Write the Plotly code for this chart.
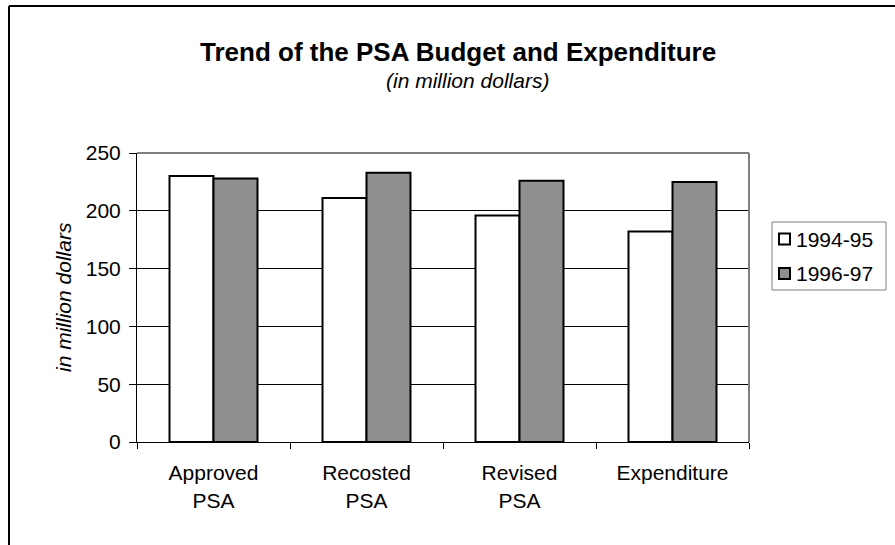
import plotly.graph_objects as go

# PSA budget and expenditure, in million dollars
categories = ["Approved<br>PSA", "Recosted<br>PSA", "Revised<br>PSA", "Expenditure"]
series_names = ["1994-95", "1996-97"]
values_1994_95 = [230, 211, 196, 182]
values_1996_97 = [228, 233, 226, 225]
y_ticks = [0, 50, 100, 150, 200, 250]
series_colors = ["#ffffff", "#8f8f8f"]

FONT = "Liberation Sans, Arial, sans-serif"
W, H = 895, 545
L, R, T, B = 137, 146, 153, 103
PW, PH = W - L - R, H - T - B


def px_x(x):
    return (x - L) / PW


def px_y(y):
    return (H - B - y) / PH


fig = go.Figure()
for name, vals, col in zip(series_names, [values_1994_95, values_1996_97], series_colors):
    fig.add_trace(go.Bar(
        x=categories, y=vals, name=name, showlegend=False,
        marker=dict(color=col, line=dict(color="#000000", width=2)),
    ))

fig.update_layout(
    width=W, height=H,
    margin=dict(l=L, r=R, t=T, b=B, pad=0),
    paper_bgcolor="#ffffff", plot_bgcolor="#ffffff",
    barmode="group", bargap=0.425, bargroupgap=0,
    font=dict(family=FONT, size=21, color="#000000"),
    showlegend=False,
    xaxis=dict(
        type="category", tickson="boundaries", ticks="outside", ticklen=6,
        tickcolor="#000000", showline=True, linecolor="#000000", linewidth=1,
        showgrid=False, tickfont=dict(family=FONT, size=21),
        ticklabelstandoff=12,
    ),
    yaxis=dict(
        range=[0, 250], tickvals=y_ticks, ticks="outside", ticklen=7,
        tickcolor="#000000", showline=True, linecolor="#000000", linewidth=1,
        showgrid=True, gridcolor="#000000", gridwidth=1, zeroline=False,
        tickfont=dict(family=FONT, size=21), ticklabelstandoff=4,
    ),
)

# plot-area frame (top and right sides in grey)
fig.add_shape(type="line", xref="paper", yref="paper", x0=0, x1=1, y0=1, y1=1,
              line=dict(color="#808080", width=2), layer="above")
fig.add_shape(type="line", xref="paper", yref="paper", x0=1, x1=1, y0=0, y1=1,
              line=dict(color="#808080", width=2), layer="above")

# outer chart border (top and left edges)
fig.add_shape(type="line", xref="paper", yref="paper",
              x0=px_x(9), x1=px_x(W), y0=px_y(6), y1=px_y(6),
              line=dict(color="#000000", width=2), layer="above")
fig.add_shape(type="line", xref="paper", yref="paper",
              x0=px_x(9), x1=px_x(9), y0=px_y(6), y1=px_y(H),
              line=dict(color="#000000", width=2), layer="above")

# legend box with swatches
fig.add_shape(type="rect", xref="paper", yref="paper",
              x0=px_x(772), x1=px_x(886), y0=px_y(222), y1=px_y(290),
              line=dict(color="#808080", width=1), fillcolor="#ffffff", layer="above")
for i, (name, col) in enumerate(zip(series_names, series_colors)):
    cy = 239 + i * 34.5
    fig.add_shape(type="rect", xref="paper", yref="paper",
                  x0=px_x(779), x1=px_x(790), y0=px_y(cy - 5.5), y1=px_y(cy + 5.5),
                  line=dict(color="#000000", width=2), fillcolor=col, layer="above")
    fig.add_annotation(
        text=name, xref="paper", yref="paper", x=px_x(794), y=px_y(cy),
        xanchor="left", yanchor="middle", showarrow=False,
        font=dict(family=FONT, size=21, color="#000000"),
    )

fig.add_annotation(
    text="<b>Trend of the PSA Budget and Expenditure</b>",
    xref="paper", yref="paper", x=px_x(458), y=px_y(52),
    xanchor="center", yanchor="middle", showarrow=False,
    font=dict(family=FONT, size=26, color="#000000"),
)
fig.add_annotation(
    text="<i>(in million dollars)</i>",
    xref="paper", yref="paper", x=px_x(467), y=px_y(81),
    xanchor="center", yanchor="middle", showarrow=False,
    font=dict(family=FONT, size=21, color="#000000"),
)
fig.add_annotation(
    text="<i>in million dollars</i>",
    xref="paper", yref="paper", x=px_x(63), y=px_y(297),
    xanchor="center", yanchor="middle", textangle=-90, showarrow=False,
    font=dict(family=FONT, size=21, color="#000000"),
)

fig.write_html("out.html")
